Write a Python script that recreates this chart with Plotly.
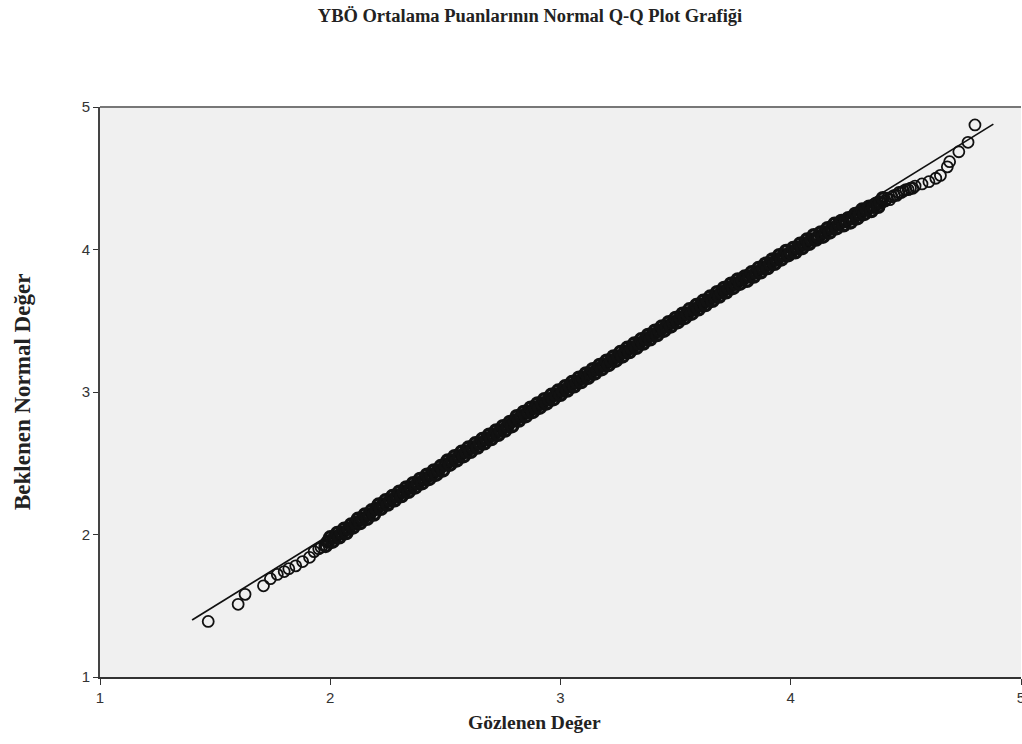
import plotly.graph_objects as go

# ---- data ----
# Lower tail (observed / expected normal)
tail_lo_obs = [1.47, 1.60, 1.63, 1.71, 1.74, 1.77, 1.80, 1.82, 1.85, 1.88, 1.91, 1.93, 1.95, 1.96]
tail_lo_exp = [1.39, 1.51, 1.58, 1.64, 1.69, 1.72, 1.74, 1.76, 1.78, 1.81, 1.84, 1.88, 1.90, 1.91]

# Dense central band
mid_obs = [
    1.98, 1.99, 2.00, 2.01, 2.02, 2.03, 2.04, 2.05, 2.06, 2.07,
    2.08, 2.09, 2.10, 2.11, 2.12, 2.13, 2.14, 2.15, 2.16, 2.17,
    2.18, 2.19, 2.20, 2.21, 2.22, 2.23, 2.24, 2.25, 2.26, 2.27,
    2.28, 2.29, 2.30, 2.31, 2.32, 2.33, 2.34, 2.35, 2.36, 2.37,
    2.38, 2.39, 2.40, 2.41, 2.42, 2.43, 2.44, 2.45, 2.46, 2.47,
    2.48, 2.49, 2.50, 2.51, 2.52, 2.53, 2.54, 2.55, 2.56, 2.57,
    2.58, 2.59, 2.60, 2.61, 2.62, 2.63, 2.64, 2.65, 2.66, 2.67,
    2.68, 2.69, 2.70, 2.71, 2.72, 2.73, 2.74, 2.75, 2.76, 2.77,
    2.78, 2.79, 2.80, 2.81, 2.82, 2.83, 2.84, 2.85, 2.86, 2.87,
    2.88, 2.89, 2.90, 2.91, 2.92, 2.93, 2.94, 2.95, 2.96, 2.97,
    2.98, 2.99, 3.00, 3.01, 3.02, 3.03, 3.04, 3.05, 3.06, 3.07,
    3.08, 3.09, 3.10, 3.11, 3.12, 3.13, 3.14, 3.15, 3.16, 3.17,
    3.18, 3.19, 3.20, 3.21, 3.22, 3.23, 3.24, 3.25, 3.26, 3.27,
    3.28, 3.29, 3.30, 3.31, 3.32, 3.33, 3.34, 3.35, 3.36, 3.37,
    3.38, 3.39, 3.40, 3.41, 3.42, 3.43, 3.44, 3.45, 3.46, 3.47,
    3.48, 3.49, 3.50, 3.51, 3.52, 3.53, 3.54, 3.55, 3.56, 3.57,
    3.58, 3.59, 3.60, 3.61, 3.62, 3.63, 3.64, 3.65, 3.66, 3.67,
    3.68, 3.69, 3.70, 3.71, 3.72, 3.73, 3.74, 3.75, 3.76, 3.77,
    3.78, 3.79, 3.80, 3.81, 3.82, 3.83, 3.84, 3.85, 3.86, 3.87,
    3.88, 3.89, 3.90, 3.91, 3.92, 3.93, 3.94, 3.95, 3.96, 3.97,
    3.98, 3.99, 4.00, 4.01, 4.02, 4.03, 4.04, 4.05, 4.06, 4.07,
    4.08, 4.09, 4.10, 4.11, 4.12, 4.13, 4.14, 4.15, 4.16, 4.17,
    4.18, 4.19, 4.20, 4.21, 4.22, 4.23, 4.24, 4.25, 4.26, 4.27,
    4.28, 4.29, 4.30, 4.31, 4.32, 4.33, 4.34, 4.35, 4.36, 4.37,
    4.38, 4.39, 4.40,
]
mid_exp = [
    1.92, 1.95, 1.98, 1.95, 1.98, 2.01, 1.98, 2.01, 2.04, 2.01,
    2.04, 2.07, 2.05, 2.08, 2.11, 2.08, 2.11, 2.14, 2.11, 2.14,
    2.17, 2.14, 2.18, 2.21, 2.18, 2.21, 2.24, 2.21, 2.24, 2.27,
    2.24, 2.27, 2.30, 2.27, 2.30, 2.33, 2.30, 2.33, 2.36, 2.33,
    2.36, 2.39, 2.36, 2.39, 2.42, 2.39, 2.42, 2.45, 2.42, 2.45,
    2.48, 2.45, 2.49, 2.52, 2.49, 2.52, 2.55, 2.52, 2.55, 2.58,
    2.55, 2.58, 2.61, 2.58, 2.61, 2.64, 2.61, 2.64, 2.67, 2.64,
    2.67, 2.70, 2.67, 2.70, 2.73, 2.70, 2.73, 2.76, 2.73, 2.76,
    2.79, 2.76, 2.80, 2.83, 2.80, 2.83, 2.86, 2.83, 2.86, 2.89,
    2.86, 2.89, 2.92, 2.89, 2.92, 2.95, 2.92, 2.95, 2.98, 2.95,
    2.98, 3.01, 2.98, 3.01, 3.04, 3.01, 3.04, 3.07, 3.04, 3.07,
    3.10, 3.07, 3.10, 3.13, 3.10, 3.13, 3.16, 3.13, 3.16, 3.19,
    3.16, 3.19, 3.22, 3.19, 3.22, 3.25, 3.22, 3.25, 3.28, 3.25,
    3.28, 3.31, 3.28, 3.31, 3.34, 3.31, 3.34, 3.37, 3.34, 3.37,
    3.40, 3.37, 3.40, 3.43, 3.40, 3.43, 3.46, 3.43, 3.46, 3.49,
    3.46, 3.49, 3.52, 3.49, 3.52, 3.55, 3.52, 3.55, 3.58, 3.55,
    3.58, 3.61, 3.58, 3.61, 3.64, 3.61, 3.64, 3.67, 3.64, 3.67,
    3.70, 3.67, 3.70, 3.73, 3.70, 3.73, 3.76, 3.73, 3.76, 3.79,
    3.76, 3.79, 3.81, 3.78, 3.81, 3.84, 3.81, 3.84, 3.87, 3.84,
    3.87, 3.90, 3.87, 3.90, 3.93, 3.90, 3.93, 3.96, 3.93, 3.96,
    3.99, 3.96, 3.98, 4.01, 3.98, 4.01, 4.04, 4.01, 4.04, 4.07,
    4.04, 4.07, 4.10, 4.07, 4.09, 4.12, 4.09, 4.12, 4.15, 4.12,
    4.15, 4.18, 4.15, 4.18, 4.20, 4.17, 4.20, 4.22, 4.19, 4.22,
    4.25, 4.22, 4.25, 4.28, 4.25, 4.28, 4.30, 4.27, 4.30, 4.32,
    4.30, 4.33, 4.36,
]

# Upper tail
tail_hi_obs = [4.41, 4.42, 4.43, 4.44, 4.45, 4.46, 4.47, 4.48, 4.49, 4.50, 4.51, 4.52,
               4.53, 4.54, 4.57, 4.60, 4.63, 4.65, 4.68, 4.69, 4.73, 4.77, 4.80]
tail_hi_exp = [4.34, 4.36, 4.35, 4.37, 4.38, 4.38, 4.40, 4.40, 4.41, 4.42, 4.42, 4.43,
               4.43, 4.445, 4.46, 4.476, 4.50, 4.52, 4.58, 4.616, 4.686, 4.752, 4.874]

# Reference line (y = x) end points
ref_x = [1.40, 4.88]
ref_y = [1.40, 4.88]

x_ticks = [1, 2, 3, 4, 5]
y_ticks = [1, 2, 3, 4, 5]

title_text = "YBÖ Ortalama Puanlarının Normal Q-Q Plot Grafiği"
x_title = "Gözlenen Değer"
y_title = "Beklenen Normal Değer"

INK = "#111111"

fig = go.Figure()
fig.add_trace(go.Scatter(
    x=ref_x, y=ref_y, mode="lines",
    line=dict(color=INK, width=1.7),
    hoverinfo="skip", showlegend=False,
))
# tails: open circles
fig.add_trace(go.Scatter(
    x=tail_lo_obs + tail_hi_obs, y=tail_lo_exp + tail_hi_exp, mode="markers",
    marker=dict(symbol="circle-open", size=11, color=INK,
                line=dict(width=1.8, color=INK)),
    showlegend=False,
))
# central band: heavily overlapping open circles
fig.add_trace(go.Scatter(
    x=mid_obs, y=mid_exp, mode="markers",
    marker=dict(symbol="circle-open", size=11, color=INK,
                line=dict(width=3.5, color=INK)),
    showlegend=False,
))

fig.update_layout(
    width=1022, height=744, autosize=False,
    margin=dict(l=100, r=1, t=107, b=67),
    paper_bgcolor="white",
    plot_bgcolor="#f0f0f0",
    title=dict(
        text="<b>" + title_text + "</b>",
        x=530 / 1022, xref="container", xanchor="center",
        y=1 - 16 / 744, yref="container", yanchor="middle",
        font=dict(family="Liberation Serif", size=18.5, color="#222222"),
    ),
    xaxis=dict(
        range=[1, 5], tickvals=x_ticks, ticktext=[str(v) for v in x_ticks],
        showgrid=False, zeroline=False, automargin=False,
        showline=True, linecolor="#333333", linewidth=2,
        ticks="outside", ticklen=6, tickcolor="#333333", tickwidth=1,
        ticklabeloverflow="allow",
        tickfont=dict(family="Liberation Sans", size=15, color="#333333"),
    ),
    yaxis=dict(
        range=[1, 5], tickvals=y_ticks, ticktext=[str(v) for v in y_ticks],
        showgrid=False, zeroline=False, automargin=False,
        showline=True, linecolor="#444444", linewidth=2,
        ticks="outside", ticklen=5, tickcolor="#333333", tickwidth=1,
        tickfont=dict(family="Liberation Sans", size=15, color="#333333"),
    ),
    shapes=[dict(type="line", xref="paper", yref="paper",
                 x0=0, x1=1, y0=1, y1=1,
                 line=dict(color="#777777", width=2))],
    annotations=[
        dict(text="<b>" + x_title + "</b>", xref="paper", yref="paper",
             x=(534 - 100) / 921, y=0, xanchor="center", yanchor="middle", yshift=-45,
             showarrow=False,
             font=dict(family="Liberation Serif", size=19.5, color="#222222")),
        dict(text="<b>" + y_title + "</b>", xref="paper", yref="paper",
             x=0, y=0.5, xanchor="center", yanchor="middle", xshift=-78,
             textangle=-90, showarrow=False,
             font=dict(family="Liberation Serif", size=23, color="#222222")),
    ],
)

fig.write_html("out.html",
               config={"displayModeBar": False},
               post_script="document.body.style.margin='0px';document.body.style.overflow='hidden';")
